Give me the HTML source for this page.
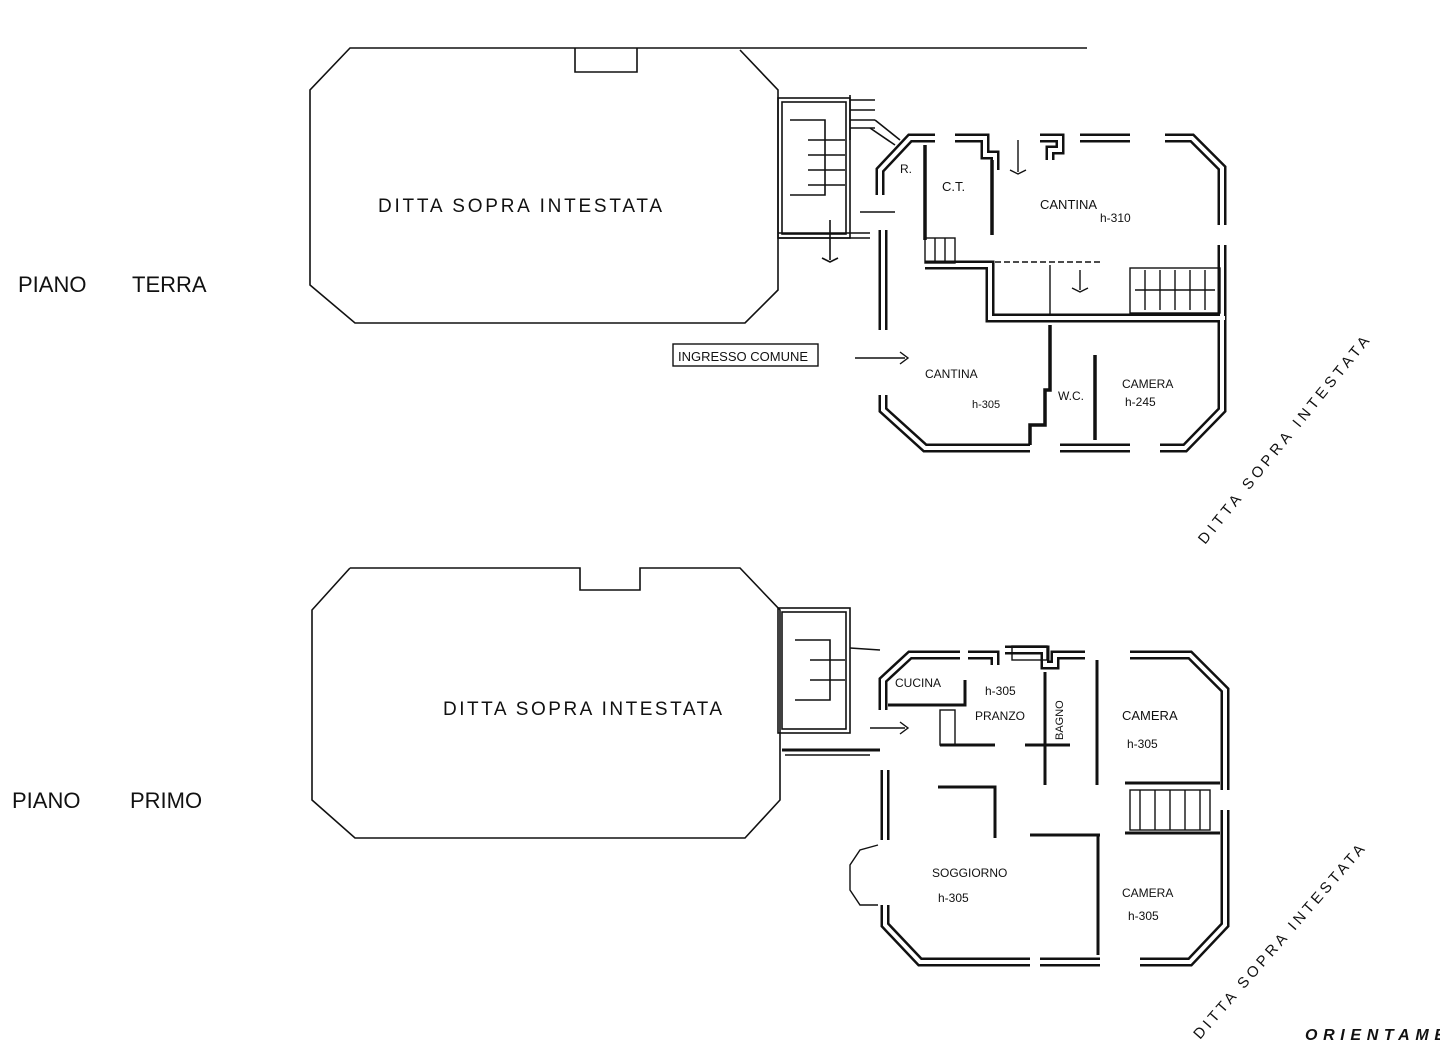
<!DOCTYPE html>
<html><head><meta charset="utf-8"><style>
html,body{margin:0;padding:0;background:#fff;}
svg{display:block}
text{font-family:"Liberation Sans",sans-serif;fill:#111;}
</style></head><body>
<svg width="1440" height="1056" viewBox="0 0 1440 1056" xmlns="http://www.w3.org/2000/svg">
<rect width="1440" height="1056" fill="#fff"/>
<g fill="none" stroke="#111" stroke-width="1.6">
<polyline points="1087,48 350,48 310,90 310,285 355,323 745,323 778,290 778,90 740,50"/>
<polyline points="575,48 575,72 637,72 637,48"/>
<rect x="778" y="98" width="72" height="140"/>
<rect x="782" y="102" width="64" height="132"/>
<polyline points="790,120 825,120 825,195 790,195"/>
<line x1="808" y1="140" x2="845" y2="140"/><line x1="808" y1="155" x2="845" y2="155"/><line x1="808" y1="170" x2="845" y2="170"/><line x1="808" y1="185" x2="845" y2="185"/>
<line x1="850" y1="95" x2="850" y2="140"/><line x1="850" y1="100" x2="875" y2="100"/><line x1="850" y1="110" x2="875" y2="110"/><line x1="850" y1="120" x2="875" y2="120"/><line x1="850" y1="128" x2="875" y2="128"/>
<polyline points="870,128 895,145"/><polyline points="875,120 900,140"/>
<line x1="778" y1="238" x2="870" y2="238"/><line x1="778" y1="233" x2="870" y2="233"/>
<line x1="830" y1="220" x2="830" y2="260"/><polyline points="822,258 830,262 838,258"/>
</g>
<g fill="none" stroke-linejoin="miter">
<g stroke="#111" stroke-width="9">
<polyline points="880,195 880,170 910,138 935,138"/>
<polyline points="955,138 985,138 985,155 995,155 995,170"/>
<polyline points="1040,138 1060,138 1060,150 1050,150 1050,160"/>
<polyline points="1080,138 1130,138"/>
<polyline points="1165,138 1192,138 1222,168 1222,225"/>
<polyline points="1222,245 1222,410 1185,448 1160,448"/>
<polyline points="1130,448 1060,448"/>
<polyline points="1030,448 925,448 883,410 883,395"/>
<polyline points="883,330 883,230"/>
<polyline points="925,265 980,265 990,265 990,318 1225,318"/>
</g>
<g stroke="#fff" stroke-width="4">
<polyline points="880,195 880,170 910,138 935,138"/>
<polyline points="955,138 985,138 985,155 995,155 995,170"/>
<polyline points="1040,138 1060,138 1060,150 1050,150 1050,160"/>
<polyline points="1080,138 1130,138"/>
<polyline points="1165,138 1192,138 1222,168 1222,225"/>
<polyline points="1222,245 1222,410 1185,448 1160,448"/>
<polyline points="1130,448 1060,448"/>
<polyline points="1030,448 925,448 883,410 883,395"/>
<polyline points="883,330 883,230"/>
<polyline points="925,265 980,265 990,265 990,318 1225,318"/>
</g>
<g stroke="#111" stroke-width="3.5">
<line x1="925" y1="145" x2="925" y2="240"/>
<line x1="992" y1="160" x2="992" y2="235"/>
<polyline points="1050,325 1050,390 1045,390 1045,425 1030,425 1030,445"/>
<line x1="1095" y1="355" x2="1095" y2="440"/>
</g>
<g stroke="#111" stroke-width="1.4">
<line x1="995" y1="262" x2="1100" y2="262" stroke-dasharray="6,3"/>
<line x1="1050" y1="265" x2="1050" y2="315"/>
<rect x="1130" y="268" width="90" height="45"/>
<line x1="1135" y1="290" x2="1215" y2="290"/>
<line x1="1145" y1="270" x2="1145" y2="310"/><line x1="1160" y1="270" x2="1160" y2="310"/><line x1="1175" y1="270" x2="1175" y2="310"/><line x1="1190" y1="270" x2="1190" y2="310"/><line x1="1205" y1="270" x2="1205" y2="310"/>
<rect x="925" y="238" width="30" height="25"/>
<line x1="935" y1="238" x2="935" y2="262"/><line x1="945" y1="238" x2="945" y2="262"/>
<line x1="1018" y1="140" x2="1018" y2="172"/><polyline points="1010,170 1018,174 1026,170"/>
<line x1="1080" y1="270" x2="1080" y2="290"/><polyline points="1072,288 1080,292 1088,288"/>
<line x1="855" y1="358" x2="905" y2="358"/><polyline points="900,352 908,358 900,364"/>
<line x1="860" y1="212" x2="895" y2="212"/>
</g>
</g>
<rect x="673" y="344" width="145" height="22" fill="none" stroke="#111" stroke-width="1.4"/>
<text x="678" y="361" font-size="13">INGRESSO  COMUNE</text>
<text x="378" y="212" font-size="19" textLength="284" lengthAdjust="spacing">DITTA  SOPRA  INTESTATA</text>
<text x="18" y="292" font-size="22">PIANO</text><text x="132" y="292" font-size="22">TERRA</text>
<text x="900" y="173" font-size="12">R.</text>
<text x="942" y="191" font-size="13">C.T.</text>
<text x="1040" y="209" font-size="13">CANTINA</text>
<text x="1100" y="222" font-size="12">h-310</text>
<text x="925" y="378" font-size="12">CANTINA</text>
<text x="972" y="408" font-size="11">h-305</text>
<text x="1058" y="400" font-size="12">W.C.</text>
<text x="1122" y="388" font-size="12">CAMERA</text>
<text x="1125" y="406" font-size="12">h-245</text>
<text font-size="15" textLength="262" lengthAdjust="spacing" transform="translate(1205,545) rotate(-51)">DITTA   SOPRA   INTESTATA</text>

<g fill="none" stroke="#111" stroke-width="1.6">
<polyline points="350,568 580,568 580,590 640,590 640,568 740,568 780,610 780,800 745,838 355,838 312,800 312,610 350,568"/>
<rect x="778" y="608" width="72" height="125"/>
<rect x="782" y="612" width="64" height="117"/>
<polyline points="795,640 830,640 830,700 795,700"/>
<line x1="810" y1="660" x2="845" y2="660"/><line x1="810" y1="680" x2="845" y2="680"/>
<line x1="850" y1="648" x2="880" y2="650"/>
<line x1="782" y1="750" x2="880" y2="750" stroke-width="3"/>
<line x1="785" y1="755" x2="870" y2="755"/>
</g>
<g fill="none">
<g stroke="#111" stroke-width="9">
<polyline points="883,710 883,680 910,655 960,655"/>
<polyline points="968,655 995,655 995,665"/>
<polyline points="1005,650 1045,650 1045,665 1055,665 1055,655 1085,655"/>
<polyline points="1130,655 1190,655 1225,690 1225,790"/>
<polyline points="1225,810 1225,925 1190,962 1140,962"/>
<polyline points="1100,962 1040,962"/>
<polyline points="1030,962 920,962 885,925 885,905"/>
<polyline points="885,840 885,770"/>
</g>
<g stroke="#fff" stroke-width="4">
<polyline points="883,710 883,680 910,655 960,655"/>
<polyline points="968,655 995,655 995,665"/>
<polyline points="1005,650 1045,650 1045,665 1055,665 1055,655 1085,655"/>
<polyline points="1130,655 1190,655 1225,690 1225,790"/>
<polyline points="1225,810 1225,925 1190,962 1140,962"/>
<polyline points="1100,962 1040,962"/>
<polyline points="1030,962 920,962 885,925 885,905"/>
<polyline points="885,840 885,770"/>
</g>
<g stroke="#111" stroke-width="3">
<polyline points="888,705 965,705 965,680"/>
<polyline points="940,745 995,745"/><line x1="1025" y1="745" x2="1070" y2="745"/>
<line x1="1045" y1="672" x2="1045" y2="785"/>
<line x1="1097" y1="660" x2="1097" y2="785"/>
<line x1="1030" y1="835" x2="1100" y2="835"/>
<line x1="1098" y1="835" x2="1098" y2="955"/>
<line x1="1125" y1="783" x2="1220" y2="783"/>
<line x1="1125" y1="833" x2="1220" y2="833"/>
<polyline points="938,787 995,787 995,838"/>
</g>
<g stroke="#111" stroke-width="1.4">
<rect x="1012" y="646" width="35" height="14"/>
<rect x="940" y="710" width="15" height="35"/>
<rect x="1130" y="790" width="80" height="40"/>
<line x1="1140" y1="790" x2="1140" y2="830"/><line x1="1155" y1="790" x2="1155" y2="830"/><line x1="1170" y1="790" x2="1170" y2="830"/><line x1="1185" y1="790" x2="1185" y2="830"/><line x1="1200" y1="790" x2="1200" y2="830"/>
<polyline points="878,845 860,850 850,865 850,890 860,905 878,905"/>
<line x1="870" y1="728" x2="905" y2="728"/><polyline points="900,722 908,728 900,734"/>
</g>
</g>
<text x="443" y="715" font-size="19" textLength="279" lengthAdjust="spacing">DITTA  SOPRA  INTESTATA</text>
<text x="12" y="808" font-size="22">PIANO</text><text x="130" y="808" font-size="22">PRIMO</text>
<text x="895" y="687" font-size="12">CUCINA</text>
<text x="985" y="695" font-size="12">h-305</text>
<text x="975" y="720" font-size="12">PRANZO</text>
<text font-size="11" transform="translate(1063,740) rotate(-90)">BAGNO</text>
<text x="1122" y="720" font-size="13">CAMERA</text>
<text x="1127" y="748" font-size="12">h-305</text>
<text x="932" y="877" font-size="12">SOGGIORNO</text>
<text x="938" y="902" font-size="12">h-305</text>
<text x="1122" y="897" font-size="12">CAMERA</text>
<text x="1128" y="920" font-size="12">h-305</text>
<text font-size="15" textLength="252" lengthAdjust="spacing" transform="translate(1200,1040) rotate(-49)">DITTA   SOPRA   INTESTATA</text>
<text x="1305" y="1040" font-size="16" font-style="italic" font-weight="bold" font-family="Liberation Serif" textLength="140" lengthAdjust="spacing">ORIENTAME</text>
</svg>
</body></html>
